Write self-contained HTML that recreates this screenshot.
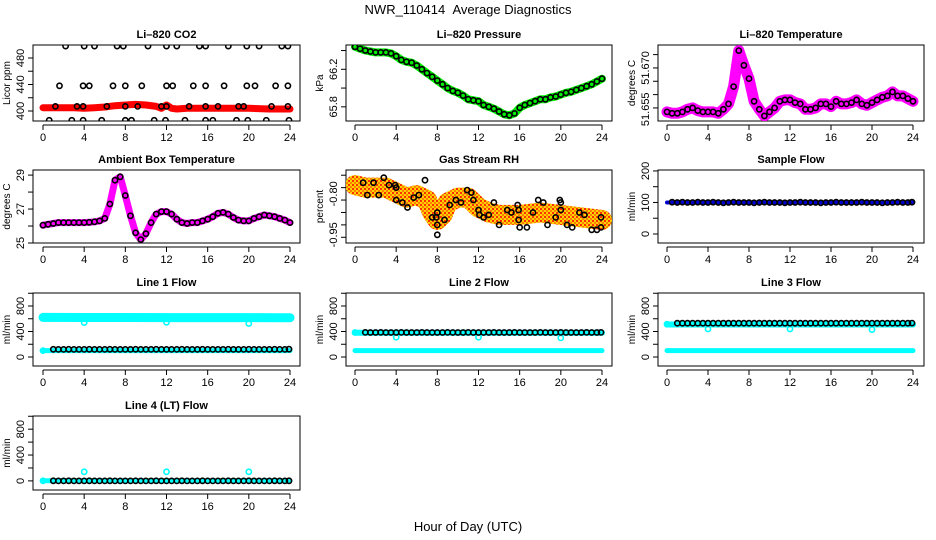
<!DOCTYPE html>
<html><head><meta charset="utf-8"><style>
html,body{margin:0;padding:0;background:#fff}
svg{display:block;font-family:"Liberation Sans",sans-serif}
</style></head><body>
<svg id="chart" width="936" height="540" viewBox="0 0 936 540" xmlns="http://www.w3.org/2000/svg">
<defs>
<pattern id="rhpat" width="4" height="4" patternUnits="userSpaceOnUse">
<rect width="4" height="4" fill="#ffd000"/><rect width="2" height="2" fill="#ff3000"/><rect x="2" y="2" width="2" height="2" fill="#ff8000"/>
</pattern>
</defs>
<text x="468" y="14" font-size="13" text-anchor="middle">NWR_110414&#160;&#160;Average Diagnostics</text>
<text x="468" y="531" font-size="13" text-anchor="middle">Hour of Day (UTC)</text>
<g id="panels"></g>
</svg>
<script>
const halfHrs=[0,0.5,1,1.5,2,2.5,3,3.5,4,4.5,5,5.5,6,6.5,7,7.5,8,8.5,9,9.5,10,10.5,11,11.5,12,12.5,13,13.5,14,14.5,15,15.5,16,16.5,17,17.5,18,18.5,19,19.5,20,20.5,21,21.5,22,22.5,23,23.5,24];
const xTicks=[0,4,8,12,16,20,24];
const co2Hrs=[2.2,4,5,7.2,7.8,10.2,12,13,15.2,15.8,18,19.8,21,23.2,23.8,1.6,3.9,4.5,6.8,8,9.6,12,12.6,14.6,15.8,17.6,19.8,20.6,22.6,23.8,1.2,3.3,3.9,6.2,8,9.2,11.5,12,14.2,15.8,17,19,19.5,22.2,23.8,0.6,2.8,3.9,5.7,8,8.6,10.8,11.9,13.8,15.8,16.5,18.8,19.9,21.7,23.9];
const co2Vals=[498,498,498,498,498,498,498,498,498,498,498,498,498,498,498,438,438,438,438,438,438,438,438,438,438,438,438,438,438,438,407,407,407,407,407,407,407,407,407,407,407,407,407,407,407,386,386,386,386,386,386,386,386,386,386,386,386,386,386,386];
const co2BandHrs=[0,1,2,3,4,5,6,7,8,9,10,11,11.5,12,12.5,13,14,16,18,20,22,24];
const co2BandVals=[405,405,405,405,404,405,406,408,409,410,409,407,404,409,404,403,404,404,404,404,403,403];
const pressVals=[66.44,66.42,66.40,66.39,66.38,66.38,66.38,66.37,66.34,66.30,66.28,66.27,66.24,66.20,66.16,66.12,66.08,66.04,66.00,65.97,65.95,65.92,65.88,65.87,65.86,65.82,65.80,65.78,65.75,65.72,65.71,65.73,65.79,65.82,65.84,65.86,65.88,65.88,65.90,65.91,65.93,65.95,65.96,65.98,66.00,66.02,66.04,66.07,66.10];
const liTempVals=[51.6535,51.653,51.653,51.6535,51.6545,51.655,51.654,51.6535,51.6535,51.6535,51.653,51.6545,51.6565,51.663,51.6765,51.671,51.666,51.6575,51.6545,51.652,51.6535,51.655,51.6575,51.658,51.658,51.657,51.6565,51.6545,51.6545,51.655,51.6565,51.6565,51.6555,51.6575,51.6565,51.6565,51.657,51.658,51.6565,51.656,51.657,51.658,51.659,51.6595,51.661,51.6595,51.6595,51.6585,51.6575];
const ambVals=[26.05,26.1,26.15,26.2,26.2,26.2,26.2,26.2,26.2,26.22,26.25,26.3,26.45,27.3,28.7,28.9,27.8,26.6,25.6,25.2,25.55,26.2,26.7,26.85,26.85,26.7,26.4,26.2,26.15,26.2,26.2,26.3,26.4,26.55,26.75,26.8,26.7,26.5,26.35,26.3,26.3,26.45,26.55,26.65,26.6,26.55,26.45,26.35,26.2];
const rhHrs=[0.8,1.2,1.8,2.3,2.8,3.3,3.9,4.0,4.0,4.6,5.1,5.7,6.2,6.8,7.5,7.9,8.0,8.0,8.0,8.7,9.2,9.8,10.3,10.9,11.3,11.5,12.0,12.1,12.5,13.0,13.5,14.0,14.8,15.2,15.8,15.9,15.9,16.0,16.7,17.3,17.8,18.3,18.7,19.5,19.9,20.0,20.0,20.6,21.1,21.8,22.3,23.0,23.5,23.9,23.9];
const rhVals=[-0.73,-0.78,-0.73,-0.78,-0.71,-0.74,-0.74,-0.75,-0.80,-0.81,-0.83,-0.79,-0.78,-0.72,-0.87,-0.87,-0.85,-0.90,-0.94,-0.88,-0.82,-0.80,-0.81,-0.76,-0.77,-0.80,-0.84,-0.86,-0.87,-0.86,-0.81,-0.90,-0.84,-0.85,-0.82,-0.84,-0.88,-0.91,-0.91,-0.85,-0.80,-0.81,-0.90,-0.87,-0.80,-0.81,-0.84,-0.90,-0.91,-0.85,-0.86,-0.92,-0.92,-0.87,-0.91];
const rhBandHrs=[0,1,2,3,4,5,6,7,7.5,8,8.5,9,10,11,12,13,14,16,18,20,22,24];
const rhBandVals=[-0.74,-0.75,-0.75,-0.75,-0.77,-0.79,-0.78,-0.80,-0.85,-0.88,-0.86,-0.81,-0.79,-0.79,-0.83,-0.85,-0.86,-0.86,-0.85,-0.86,-0.87,-0.88];
const blackHrs=[0.5,1,1.5,2,2.5,3,3.5,4,4.5,5,5.5,6,6.5,7,7.5,8,8.5,9,9.5,10,10.5,11,11.5,12,12.5,13,13.5,14,14.5,15,15.5,16,16.5,17,17.5,18,18.5,19,19.5,20,20.5,21,21.5,22,22.5,23,23.5,23.9];
const sampleVals=[101,100,101,100,100,101,100,100,101,100,99,100,101,100,100,100,99,100,101,100,100,100,99,100,100,101,100,100,100,99,100,100,101,100,100,100,100,101,100,100,100,99,100,100,101,100,100,101];
const line1Vals=[120,121,120,120,121,120,120,120,121,120,120,120,121,120,120,120,120,121,120,120,120,121,120,120,120,120,121,120,120,120,121,120,120,120,120,121,120,120,120,121,120,120,120,120,121,120,120,122];
const line2Vals=[385,386,385,385,386,385,385,385,386,385,385,385,386,385,385,385,385,386,385,385,385,386,385,385,385,385,386,385,385,385,386,385,385,385,385,386,385,385,385,386,385,385,385,385,386,385,385,386];
const line3Vals=[530,531,530,530,531,530,530,530,531,530,530,530,531,530,530,530,530,531,530,530,530,531,530,530,530,530,531,530,530,530,531,530,530,530,530,531,530,530,530,531,530,530,530,530,531,530,530,532];
const line4Vals=[0,1,0,0,1,0,0,0,1,0,0,0,1,0,0,0,0,1,0,0,0,1,0,0,0,0,1,0,0,0,1,0,0,0,0,1,0,0,0,1,0,0,0,0,1,0,0,1];
const flowBandHrs=[0,4,8,12,16,20,24];
const line1HiVals=[622,620,620,618,618,618,616];
const line1LoVals=[100,100,100,100,100,100,100];
const line2HiVals=[380,380,380,380,380,380,380];
const line2LoVals=[100,100,100,100,100,100,100];
const line3HiVals=[510,510,510,510,510,510,510];
const line3LoVals=[100,100,100,100,100,100,100];
const line4LoVals=[2,2,2,2,2,2,2];
const outHrs=[0,4,12,20];
const line1OutVals=[100,540,545,525];
const line2OutVals=[385,310,310,300];
const line3OutVals=[515,440,440,430];
const line4OutVals=[2,140,140,140];

const NS="http://www.w3.org/2000/svg";
const root=document.getElementById('panels');
const cols=[{l:33,r:300,x0:43,x1:290},{l:346,r:612,x0:355,x1:602},{l:658,r:924,x0:667,x1:913}];
const rows=[{t:45,b:121},{t:170,b:243},{t:293,b:366},{t:416,b:490}];
function mk(tag,attrs,parent){const e=document.createElementNS(NS,tag);for(const k in attrs)e.setAttribute(k,attrs[k]);(parent||root).appendChild(e);return e;}

function panel(p){
  const c=cols[p.col],r=rows[p.row];
  const g=mk('g',{});
  
  
  const xs=h=>c.x0+(h/24)*(c.x1-c.x0);
  const ys=v=>r.b-(v-p.dom[0])/(p.dom[1]-p.dom[0])*(r.b-r.t);
  const box=mk('rect',{x:c.l,y:r.t,width:c.r-c.l,height:r.b-r.t,fill:'none',stroke:'#000','stroke-width':1},g);
  
  
  const ti=mk('text',{x:(c.l+c.r)/2,y:r.t-7,'font-size':11,'font-weight':'bold','text-anchor':'middle'},g);
  ti.textContent=p.title;
  
  
  const xa=mk('g',{},g);
  
  
  mk('line',{x1:xs(0),x2:xs(24),y1:r.b+4,y2:r.b+4,stroke:'#000'},xa);
  xTicks.forEach(t=>{
    mk('line',{x1:xs(t),x2:xs(t),y1:r.b+4,y2:r.b+9,stroke:'#000'},xa);
    const tx=mk('text',{x:xs(t),y:r.b+20,'font-size':11,'text-anchor':'middle'},xa);tx.textContent=t;
    
    
  });
  const ya=mk('g',{},g);
  
  
  p.yTicks.forEach(t=>{mk('line',{x1:c.l-5,x2:c.l,y1:ys(t),y2:ys(t),stroke:'#000'},ya);});
  p.yLabels.forEach((t,i)=>{const yy=ys(p.yLabelVals[i]);const tx=mk('text',{x:0,y:0,'font-size':11,'text-anchor':'middle',transform:`translate(${c.l-9},${yy}) rotate(-90)`},ya);tx.textContent=t;
    
    });
  const yt=mk('text',{x:0,y:0,'font-size':10,'text-anchor':'middle',transform:`translate(${c.l-23},${(r.t+r.b)/2}) rotate(-90)`},g);
  yt.textContent=p.ylab;
  
  
  const clip='clip'+p.name;
  const cp=mk('clipPath',{id:clip},g);mk('rect',{x:c.l,y:r.t,width:c.r-c.l,height:r.b-r.t},cp);
  const dg=mk('g',{'clip-path':`url(#${clip})`},g);
  (p.bands||[]).forEach(b=>{
    const pts=b.h.map((h,i)=>xs(h).toFixed(1)+','+ys(b.v[i]).toFixed(1)).join(' ');
    const pl=mk('polyline',{points:pts,fill:'none',stroke:b.color,'stroke-width':b.w,'stroke-linejoin':'round','stroke-linecap':'round'},dg);
    
    
  });
  (p.points||[]).forEach(s=>{
    const sg=mk('g',{},dg);
    
    
    s.h.forEach((h,i)=>{
      const ci=mk('circle',{cx:xs(h).toFixed(1),cy:ys(s.v[i]).toFixed(1),r:s.r||2.6,fill:'none',stroke:s.color,'stroke-width':1.6},sg);
      
      
    });
  });
}
const flowTicks=[0,200,400,600,800,1000], flowLabs=['0','400','800'], flowLabV=[0,400,800];
panel({name:'co2',title:'Li\u2013820 CO2',col:0,row:0,dom:[384.9,499.6],yTicks:[400,420,440,460,480],yLabels:['400','440','480'],yLabelVals:[400,440,480],ylab:'Licor ppm',
  bands:[{name:'co2-band',h:co2BandHrs,v:co2BandVals,color:'#ff0000',w:7}],points:[{name:'co2-points',h:co2Hrs,v:co2Vals,color:'#000'}]});
panel({name:'press',title:'Li\u2013820 Pressure',col:1,row:0,dom:[65.649,66.459],yTicks:[65.8,66.0,66.2,66.4],yLabels:['65.8','66.2'],yLabelVals:[65.8,66.2],ylab:'kPa',
  bands:[{name:'pressure-band',h:halfHrs,v:pressVals,color:'#00ee00',w:8}],points:[{name:'pressure-points',h:halfHrs,v:pressVals,color:'#000'}]});
panel({name:'litemp',title:'Li\u2013820 Temperature',col:2,row:0,dom:[51.6501,51.6786],yTicks:[51.655,51.66,51.665,51.67,51.675],yLabels:['51.655','51.670'],yLabelVals:[51.6545,51.670],ylab:'degrees C',
  bands:[{name:'li-temp-band',h:halfHrs,v:liTempVals,color:'#ff00ff',w:11}],points:[{name:'li-temp-points',h:halfHrs,v:liTempVals,color:'#000'}]});
panel({name:'amb',title:'Ambient Box Temperature',col:0,row:1,dom:[25,29.3],yTicks:[25,26,27,28,29],yLabels:['25','27','29'],yLabelVals:[25,27,29],ylab:'degrees C',
  bands:[{name:'ambient-band',h:halfHrs,v:ambVals,color:'#ff00ff',w:7}],points:[{name:'ambient-points',h:halfHrs,v:ambVals,color:'#000'}]});
panel({name:'rh',title:'Gas Stream RH',col:1,row:1,dom:[-0.973,-0.679],yTicks:[-0.70,-0.75,-0.80,-0.85,-0.90,-0.95],yLabels:['-0.80','-0.95'],yLabelVals:[-0.775,-0.94],ylab:'percent',
  bands:[{name:'rh-band',h:rhBandHrs,v:rhBandVals,color:'url(#rhpat)',w:20}],points:[{name:'rh-points',h:rhHrs,v:rhVals,color:'#000'}]});
panel({name:'sample',title:'Sample Flow',col:2,row:1,dom:[-28.6,203],yTicks:[0,50,100,150,200],yLabels:['0','100','200'],yLabelVals:[0,100,200],ylab:'ml/min',
  bands:[{name:'sample-band',h:flowBandHrs,v:[100,100,100,100,100,100,100],color:'#0000cc',w:4}],points:[{name:'sample-points',h:blackHrs,v:sampleVals,color:'#000'}]});
const fdom=[-141,1004];
panel({name:'l1',title:'Line 1 Flow',col:0,row:2,dom:fdom,yTicks:flowTicks,yLabels:flowLabs,yLabelVals:flowLabV,ylab:'ml/min',
  bands:[{name:'line1-high-band',h:flowBandHrs,v:line1HiVals,color:'#00ffff',w:9},{name:'line1-low-band',h:flowBandHrs,v:line1LoVals,color:'#00ffff',w:5}],
  points:[{name:'line1-outliers',h:outHrs,v:line1OutVals,color:'#00ffff'},{name:'line1-points',h:blackHrs.slice(1),v:line1Vals.slice(1),color:'#000'}]});
panel({name:'l2',title:'Line 2 Flow',col:1,row:2,dom:fdom,yTicks:flowTicks,yLabels:flowLabs,yLabelVals:flowLabV,ylab:'ml/min',
  bands:[{name:'line2-high-band',h:flowBandHrs,v:line2HiVals,color:'#00ffff',w:6},{name:'line2-low-band',h:flowBandHrs,v:line2LoVals,color:'#00ffff',w:5}],
  points:[{name:'line2-outliers',h:outHrs,v:line2OutVals,color:'#00ffff'},{name:'line2-points',h:blackHrs.slice(1),v:line2Vals.slice(1),color:'#000'}]});
panel({name:'l3',title:'Line 3 Flow',col:2,row:2,dom:fdom,yTicks:flowTicks,yLabels:flowLabs,yLabelVals:flowLabV,ylab:'ml/min',
  bands:[{name:'line3-high-band',h:flowBandHrs,v:line3HiVals,color:'#00ffff',w:6},{name:'line3-low-band',h:flowBandHrs,v:line3LoVals,color:'#00ffff',w:5}],
  points:[{name:'line3-outliers',h:outHrs,v:line3OutVals,color:'#00ffff'},{name:'line3-points',h:blackHrs.slice(1),v:line3Vals.slice(1),color:'#000'}]});
panel({name:'l4',title:'Line 4 (LT) Flow',col:0,row:3,dom:fdom,yTicks:flowTicks,yLabels:flowLabs,yLabelVals:flowLabV,ylab:'ml/min',
  bands:[{name:'line4-band',h:flowBandHrs,v:line4LoVals,color:'#00ffff',w:5}],
  points:[{name:'line4-outliers',h:outHrs,v:line4OutVals,color:'#00ffff'},{name:'line4-points',h:blackHrs.slice(1),v:line4Vals.slice(1),color:'#000'}]});
</script>
</body></html>
